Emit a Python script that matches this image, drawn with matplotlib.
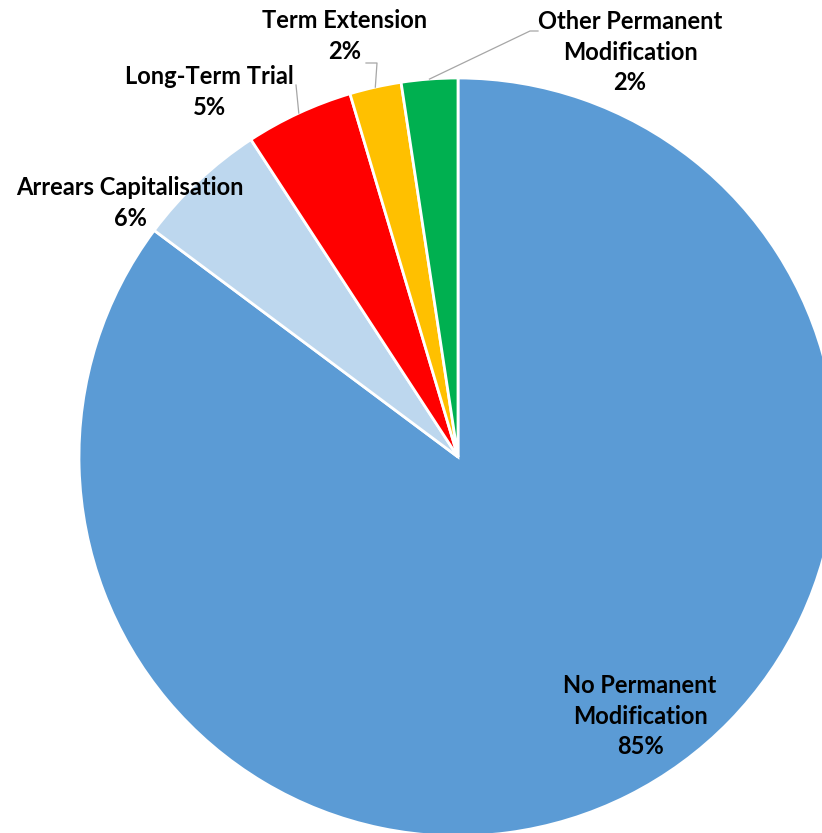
import matplotlib.pyplot as plt
import numpy as np

labels = ['No Permanent\nModification', 'Arrears Capitalisation', 'Long-Term Trial',
          'Term Extension', 'Other Permanent\nModification']
values = [85.2, 5.6, 4.6, 2.2, 2.4]
colors = ['#5B9BD5', '#BDD7EE', '#FF0000', '#FFC000', '#00B050']

W, H = 822, 833
fig = plt.figure(figsize=(W / 100, H / 100), dpi=100)
ax = fig.add_axes([0, 0, 1, 1])

cx, cy, r = 458, H - 457, 379
wedges, _ = ax.pie(values, colors=colors, startangle=90, counterclock=False,
                   center=(cx, cy), radius=r, frame=True,
                   wedgeprops=dict(edgecolor='white', linewidth=2))
ax.set_xlim(0, W)
ax.set_ylim(0, H)
ax.axis('off')

# label positions (pixel coords from top) and leader line bends
label_pos = [(640, 716), (130, 203), (209, 92), (345, 36), (630, 52)]
leaders = [None, None, [(296, 85)], [(377, 63), (366, 63)], [(530, 31), (538, 31)]]

font = dict(family=['Lato', 'DejaVu Sans'], fontweight='bold', fontsize=17,
            ha='center', va='center', linespacing=1.42)
for w, lab, v, (lx, ly), lead in zip(wedges, labels, values, label_pos, leaders):
    ax.text(lx, H - ly, '%s\n%.0f%%' % (lab, v), **font)
    if lead:
        mid = np.deg2rad((w.theta1 + w.theta2) / 2)
        pts = [(cx + r * np.cos(mid), cy + r * np.sin(mid))] + [(x, H - y) for x, y in lead]
        xs, ys = zip(*pts)
        ax.plot(xs, ys, color='#A6A6A6', linewidth=0.9)

fig.savefig('out.png', dpi=100)
